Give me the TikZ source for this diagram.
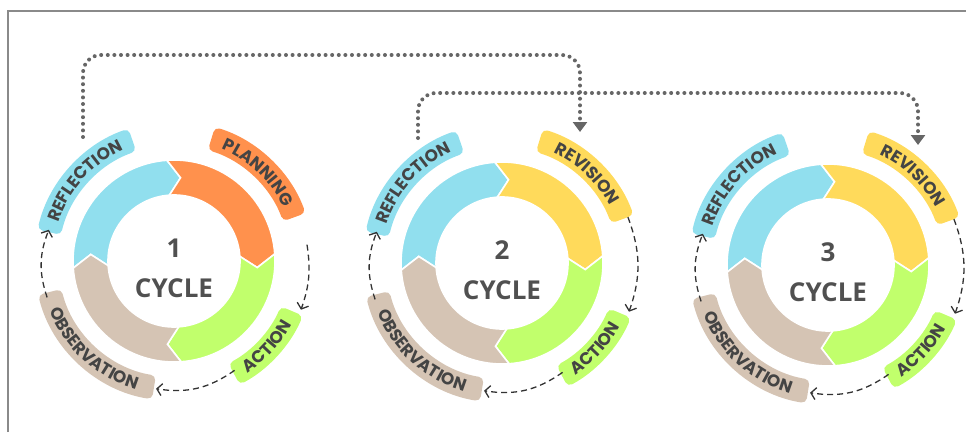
\documentclass[tikz,border=0pt]{standalone}
\usepackage{fontspec}
\setmainfont{Open Sans}
\newfontfamily\lblfont{Poppins}
\usetikzlibrary{arrows.meta, decorations.text}

\definecolor{ringblue}{HTML}{91DFEE}
\definecolor{planorange}{HTML}{FF914D}
\definecolor{ringgreen}{HTML}{C1FF6C}
\definecolor{ringbeige}{HTML}{D5C4B4}
\definecolor{revyellow}{HTML}{FFDA5B}
\definecolor{lbltext}{HTML}{444444}
\definecolor{numtext}{HTML}{505050}
\definecolor{dotgray}{HTML}{666666}
\definecolor{dashdark}{HTML}{333333}
\definecolor{framegray}{HTML}{8A8A8A}

\tikzstyle{seg} = [draw=white, line width=1.6pt]
\tikzstyle{band} = [rounded corners=5pt]
\tikzstyle{cycnum} = [anchor=base, inner sep=0pt, text=numtext, font=\bfseries\fontsize{26}{26}\selectfont]
\tikzstyle{dasharrow} = [line width=1.3pt, draw=dashdark, dash pattern=on 6pt off 4pt, -{Straight Barb[length=5pt, width=12pt]}]
\tikzstyle{dotline} = [line width=4pt, draw=dotgray, line cap=round, dash pattern=on 0pt off 6.6pt, rounded corners=18pt, -{Triangle[width=14pt, length=10pt]}]
\tikzstyle{frame} = [line width=1.5pt, draw=framegray]

% one arrow-shaped quarter of the ring, starting at angle #1
\newcommand{\ringseg}[2]{\fill[seg, fill=#2] (#1:101) arc[start angle=#1, delta angle=-90, radius=101] -- ({#1-98.5}:83.5) -- ({#1-90}:66) arc[start angle={#1-90}, delta angle=90, radius=66] -- ({#1-8.5}:83.5) -- cycle;}
\newcommand{\lblband}[3]{\fill[band, fill=#3] (#1:116) arc[start angle=#1, end angle=#2, radius=116] -- (#2:140) arc[start angle=#2, end angle=#1, radius=140] -- cycle;}
\newcommand{\toplbl}[3]{\path[decorate, decoration={text along path, text align=center, text color=lbltext, text={|\lblfont\bfseries\fontsize{17}{17}\selectfont|#1}}] (#2:122) arc[start angle=#2, end angle=#3, radius=122];}
\newcommand{\botlbl}[3]{\path[decorate, decoration={text along path, text align=center, text color=lbltext, text={|\lblfont\bfseries\fontsize{17}{17}\selectfont|#1}}] (#2:134) arc[start angle=#2, end angle=#3, radius=134];}

\begin{document}
\begin{tikzpicture}[x=1pt, y=1pt]
	\useasboundingbox (0,0) rectangle (966,432);
	\draw[frame] (8,0) |- (966,421);

	\foreach \n/\cx/\cy/\lbl/\tc/\s/\bd in {1/174/171/PLANNING/planorange/7/14, 2/502/169/REVISION/revyellow/20/20, 3/828/167/REVISION/revyellow/20/20} {
	\begin{scope}[shift={(\cx,\cy)}]
		\ringseg{184}{ringblue}
		\ringseg{94}{\tc}
		\ringseg{4}{ringgreen}
		\ringseg{-86}{ringbeige}

		\lblband{109}{167}{ringblue}
		\lblband{20}{73}{\tc}
		\lblband{-62}{-23}{ringgreen}
		\lblband{194}{261}{ringbeige}
		\toplbl{REFLECTION}{167}{109}
		\expandafter\toplbl\expandafter{\lbl}{73}{20}
		\botlbl{ACTION}{-62}{-23}
		\botlbl{OBSERVATION}{194}{261}

		\node (num\n) [cycnum] at (0,4) {\n};
		\node (cyc\n) [cycnum] at (0,-36) {CYCLE};

		\coordinate (c\n-top) at (\s:134);
		\coordinate (c\n-act) at (-21:136);
		\coordinate (c\n-actend) at (-61:125);
		\coordinate (c\n-obs) at (-98:129);
		\coordinate (c\n-obsend) at (196:132);
		\coordinate (c\n-ref) at (166:129);
		\draw[dasharrow] (c\n-top) to[bend left=\bd] (c\n-act);
		\draw[dasharrow] (c\n-actend) to[bend left=22] (c\n-obs);
		\draw[dasharrow] (c\n-obsend) to[bend left=20] (c\n-ref);
	\end{scope}
	}

	\coordinate (ref1-top) at (83,295);
	\coordinate (rev2-top) at (580,300);
	\coordinate (ref2-top) at (418,294);
	\coordinate (rev3-top) at (918,287);
	\draw[dotline] (ref1-top) -- (83,377) -| (rev2-top);
	\draw[dotline] (ref2-top) -- (418,339) -| (rev3-top);

\end{tikzpicture}
\end{document}
